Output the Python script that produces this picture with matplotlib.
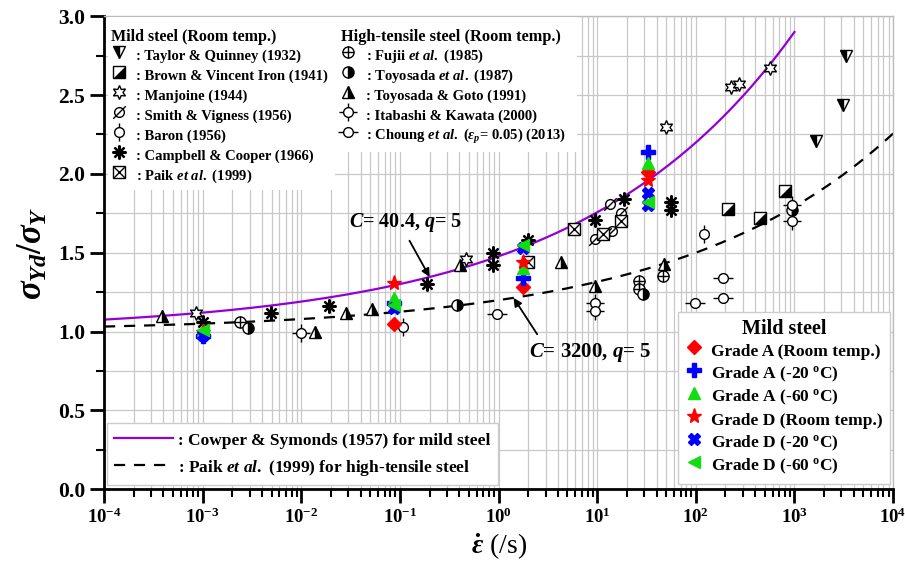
import numpy as np
import matplotlib
matplotlib.use('Agg')
import matplotlib.pyplot as plt
from matplotlib.ticker import LogLocator, MultipleLocator, NullFormatter, FormatStrFormatter, FixedLocator

plt.rcParams['font.family'] = 'Liberation Serif'
plt.rcParams['font.weight'] = 'bold'
plt.rcParams['mathtext.fontset'] = 'custom'
plt.rcParams['mathtext.rm'] = 'Liberation Serif:bold'
plt.rcParams['mathtext.it'] = 'Liberation Serif:italic:bold'
plt.rcParams['mathtext.bf'] = 'Liberation Serif:bold'

# ---- model parameters (Cowper-Symonds) ----
C_mild, q_mild = 40.4, 5
C_ht, q_ht = 3200, 5

# ---- literature data: mild steel (room temp.) ----
taylor_x = [1660, 3130, 3350]
taylor_y = [2.21, 2.44, 2.75]
brown_x = [212, 443, 810]
brown_y = [1.78, 1.72, 1.89]
manjoine_x = [8.6e-4, 0.47, 50, 230, 275, 560]
manjoine_y = [1.12, 1.46, 2.30, 2.55, 2.57, 2.67]
smith_x = [9.4, 12.0, 14.0, 13.5, 17.5]
smith_y = [1.59, 1.62, 1.64, 1.81, 1.75]
baron_x = [0.107, 122]
baron_y = [1.03, 1.62]
campbell_x = [1e-3, 4.9e-3, 0.0193, 0.19, 0.88, 0.88, 2.0, 9.4, 18.8, 55.8, 55.8]
campbell_y = [1.06, 1.12, 1.16, 1.30, 1.50, 1.42, 1.58, 1.71, 1.84, 1.82, 1.77]
paik_x = [1.98, 5.76, 11.5, 17.5]
paik_y = [1.44, 1.65, 1.62, 1.70]

# ---- literature data: high-tensile steel (room temp.) ----
fujii_x = [2.4e-3, 26.7, 26.7, 47]
fujii_y = [1.06, 1.32, 1.27, 1.35]
toyosada_x = [2.9e-3, 0.377, 29, 955]
toyosada_y = [1.02, 1.17, 1.24, 1.77]
goto_x = [3.9e-4, 0.0138, 0.0284, 0.052, 0.41, 4.3, 9.4, 48]
goto_y = [1.10, 1.00, 1.12, 1.14, 1.42, 1.44, 1.29, 1.43]
itabashi_x = [0.01, 9.4, 9.4, 955, 955]
itabashi_y = [0.99, 1.18, 1.13, 1.80, 1.70]
choung_x = [0.975, 97, 190, 190]
choung_y = [1.11, 1.18, 1.34, 1.21]

# ---- present tests: mild steel grades ----
rates = [1e-3, 0.087, 1.78, 32.5]
gA_room = [0.98, 1.05, 1.28, 2.01]
gA_m20 = [0.97, 1.18, 1.34, 2.14]
gA_m60 = [1.01, 1.21, 1.40, 2.07]
gD_room = [1.00, 1.31, 1.44, 1.96]
gD_m20_x = [1e-3, 0.087, 1.78, 32.5, 32.5]
gD_m20 = [0.98, 1.15, 1.53, 1.88, 1.80]
gD_m60 = [1.01, 1.17, 1.55, 1.82]

x_decades = [1e-4, 1e-3, 1e-2, 1e-1, 1, 1e1, 1e2, 1e3, 1e4]

fig = plt.figure(figsize=(9.05, 5.81), dpi=100)
ax = fig.add_axes([0.115, 0.158, 0.8718, 0.8141])


def ref_pts(xs, ys, parts):
    hs = []
    for p in parts:
        h, = ax.plot(xs, ys, ls='none', zorder=3, **p)
        hs.append(h)
    return tuple(hs)


K = 'black'
h_taylor = ref_pts(taylor_x, taylor_y, [dict(marker='v', ms=9, fillstyle='left', mfc=K, mfcalt='white', mec=K, mew=1)])
h_brown = ref_pts(brown_x, brown_y, [dict(marker='s', ms=8, mfc='white', mec=K, mew=1),
                                     dict(marker=[(-1, -1), (1, -1), (1, 1)], ms=8, mfc=K, mec=K, mew=0.5)])
h_manj = ref_pts(manjoine_x, manjoine_y, [dict(marker=(6, 1, 0), ms=10, mfc='white', mec=K, mew=1)])
h_smith = ref_pts(smith_x, smith_y, [dict(marker='o', ms=7, mfc='white', mec=K, mew=1),
                                     dict(marker=[(-1, -1), (1, 1)], ms=9, mfc='none', mec=K, mew=1)])
h_baron = ref_pts(baron_x, baron_y, [dict(marker='|', ms=13, mec=K, mew=1),
                                     dict(marker='o', ms=7, mfc='white', mec=K, mew=1)])
h_camp = ref_pts(campbell_x, campbell_y, [dict(marker=(8, 2, 0), ms=10, mec=K, mew=1.6),
                                          dict(marker='o', ms=4, mfc=K, mec=K)])
h_paik = ref_pts(paik_x, paik_y, [dict(marker='s', ms=8, mfc='white', mec=K, mew=1),
                                  dict(marker='x', ms=8, mec=K, mew=1)])
h_fujii = ref_pts(fujii_x, fujii_y, [dict(marker='o', ms=8, mfc='white', mec=K, mew=1),
                                     dict(marker='+', ms=8, mec=K, mew=1)])
h_toyo = ref_pts(toyosada_x, toyosada_y, [dict(marker='o', ms=8, fillstyle='right', mfc=K, mfcalt='white', mec=K, mew=1)])
h_goto = ref_pts(goto_x, goto_y, [dict(marker='^', ms=9, fillstyle='right', mfc=K, mfcalt='white', mec=K, mew=1)])
h_itab = ref_pts(itabashi_x, itabashi_y, [dict(marker='+', ms=13, mec=K, mew=1),
                                          dict(marker='o', ms=7, mfc='white', mec=K, mew=1)])
h_choung = ref_pts(choung_x, choung_y, [dict(marker='_', ms=14, mec=K, mew=1),
                                        dict(marker='o', ms=7, mfc='white', mec=K, mew=1)])

# model curves
r1 = np.logspace(-4, 3, 300)
r2 = np.logspace(-4, 4, 300)
l_cs, = ax.plot(r1, 1 + (r1 / C_mild) ** (1 / q_mild), color='#9400d3', lw=1.6, zorder=2)
l_pk, = ax.plot(r2, 1 + (r2 / C_ht) ** (1 / q_ht), color='black', lw=1.6, dashes=(5, 4), zorder=2)

# present tests
RED, BLUE, GREEN = '#ff0000', '#0000ff', '#11dd11'
m1, = ax.plot(rates, gA_room, 'D', color=RED, ms=7, ls='none', zorder=4)
m2, = ax.plot(rates, gA_m20, 'P', color=BLUE, ms=10, ls='none', zorder=4)
m3, = ax.plot(rates, gA_m60, '^', color=GREEN, ms=8, ls='none', zorder=4)
m4, = ax.plot(rates, gD_room, '*', color=RED, ms=11, ls='none', zorder=4)
m5, = ax.plot(gD_m20_x, gD_m20, 'X', color=BLUE, ms=9, ls='none', zorder=4)
m6, = ax.plot(rates, gD_m60, '<', color=GREEN, ms=8, ls='none', zorder=4)

# annotations
xa = 0.2
ax.annotate(r'$C$= 40.4, $q$= 5', xy=(xa, 1 + (xa / C_mild) ** (1 / q_mild)), xytext=(0.115, 1.69),
            ha='center', va='center', fontsize=14.5,
            arrowprops=dict(arrowstyle='-|>', color='k', lw=1.3, mutation_scale=12,
                            relpos=(0.5, 0.0), shrinkA=3, shrinkB=0))
xb = 1.42
ax.annotate(r'$C$= 3200, $q$= 5', xy=(xb, 1 + (xb / C_ht) ** (1 / q_ht)), xytext=(8.5, 0.87),
            ha='center', va='center', fontsize=15,
            arrowprops=dict(arrowstyle='-|>', color='k', lw=1.3, mutation_scale=12,
                            relpos=(0.1, 1.0), shrinkA=3, shrinkB=0))

# axes formatting
ax.set_xscale('log')
ax.set_xlim(1e-4, 1e4)
ax.set_ylim(0, 3.0)
ax.yaxis.set_major_locator(MultipleLocator(0.5))
ax.yaxis.set_minor_locator(MultipleLocator(0.25))
ax.yaxis.set_major_formatter(FormatStrFormatter('%.1f'))
ax.xaxis.set_major_locator(FixedLocator(x_decades))
ax.xaxis.set_minor_locator(LogLocator(base=10, subs=np.arange(2, 10), numticks=20))
ax.xaxis.set_minor_formatter(NullFormatter())
ax.grid(True, which='both', color='#c8c8c8', lw=0.9)
ax.set_axisbelow(True)
ax.tick_params(which='major', direction='out', length=10, width=2, labelsize=13.5, top=False, right=False)
ax.tick_params(axis='y', which='major', labelsize=15.5)
ax.tick_params(which='minor', direction='out', length=6, width=1.5, top=False, right=False)
for s in ['left', 'bottom']:
    ax.spines[s].set_linewidth(2)
for s in ['top', 'right']:
    ax.spines[s].set_color('#bbbbbb')
    ax.spines[s].set_linewidth(1)

ax.set_ylabel(r'$\sigma_{Yd}/\sigma_{Y}$', fontsize=25, labelpad=6)
ax.set_xlabel(r'$\dot{\varepsilon}$ (/s)', fontsize=20, labelpad=3)

# legends
common = dict(fancybox=False, framealpha=1, borderpad=0.4)
leg1 = ax.legend([h_taylor, h_brown, h_manj, h_smith, h_baron, h_camp, h_paik],
                 [': Taylor & Quinney (1932)', ': Brown & Vincent Iron (1941)', ': Manjoine (1944)',
                  ': Smith & Vigness (1956)', ': Baron (1956)', ': Campbell & Cooper (1966)',
                  r': Paik $et\ al.$ (1999)'],
                 title='Mild steel (Room temp.)', loc='upper left', bbox_to_anchor=(0.002, 0.985),
                 fontsize=10.5, title_fontsize=11.5, edgecolor='white', alignment='left',
                 handlelength=1.0, handleheight=1.73, handletextpad=0.7, labelspacing=0.0,
                 borderaxespad=0, **common)
leg1.get_frame().set_visible(False)
ax.add_artist(leg1)
leg2 = ax.legend([h_fujii, h_toyo, h_goto, h_itab, h_choung],
                 [r': Fujii $et\ al.$ (1985)', r': Toyosada $et\ al.$ (1987)', ': Toyosada & Goto (1991)',
                  ': Itabashi & Kawata (2000)', r': Choung $et\ al.$ ($\varepsilon_p$= 0.05) (2013)'],
                 title='High-tensile steel (Room temp.)', loc='upper left', bbox_to_anchor=(0.293, 0.985),
                 fontsize=10.5, title_fontsize=11.8, edgecolor='white', alignment='left',
                 handlelength=1.0, handleheight=1.73, handletextpad=0.7, labelspacing=0.0,
                 borderaxespad=0, **common)
leg2.get_frame().set_visible(False)
ax.add_artist(leg2)
# white boxes behind the two upper legends (no border in the original)
ax.fill_between([1.1e-4, 0.022], 1.90, 2.995, color='white', zorder=5, lw=0)
ax.fill_between([0.022, 6.3], 2.14, 2.995, color='white', zorder=5, lw=0)
leg3 = ax.legend([l_cs, l_pk],
                 [': Cowper & Symonds (1957) for mild steel', r': Paik $et\ al.$ (1999) for high-tensile steel'],
                 loc='lower left', bbox_to_anchor=(0.004, 0.008), fontsize=12.5, edgecolor='#cccccc',
                 handlelength=3.4, handleheight=1.2, handletextpad=0.3, labelspacing=0.5,
                 borderaxespad=0, **common)
ax.add_artist(leg3)
leg4 = ax.legend([m1, m2, m3, m4, m5, m6],
                 ['Grade A (Room temp.)', r'Grade A (-20 $^{\rm o}$C)', r'Grade A (-60 $^{\rm o}$C)',
                  'Grade D (Room temp.)', r'Grade D (-20 $^{\rm o}$C)', r'Grade D (-60 $^{\rm o}$C)'],
                 title='Mild steel', loc='lower right', bbox_to_anchor=(0.996, 0.012), fontsize=12.5,
                 title_fontsize=14.5, edgecolor='#cccccc', handlelength=1.0, handleheight=1.66,
                 handletextpad=0.5, labelspacing=0.0, borderaxespad=0, **common)
for lg in (leg1, leg2, leg3, leg4):
    lg.set_zorder(10)

fig.savefig('out.png', dpi=100)
